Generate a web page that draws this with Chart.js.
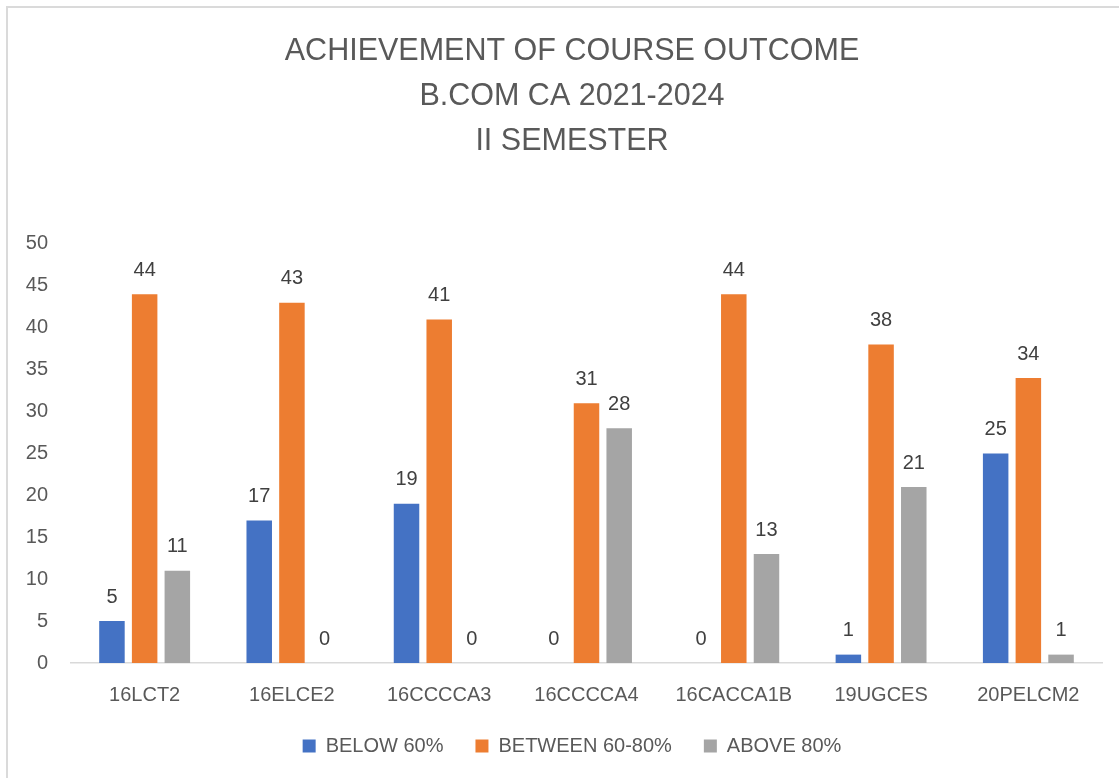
<!DOCTYPE html>
<html>
<head>
<meta charset="utf-8">
<title>Achievement of Course Outcome</title>
<script src="https://cdn.jsdelivr.net/npm/chart.js@4/dist/chart.umd.min.js"></script>
<style>
  html, body { margin: 0; padding: 0; background: #fff; overflow: hidden; }
  #wrap { position: relative; width: 1119px; height: 778px; }
  /* chart frame, cut off at the right and bottom like the screenshot */
  #frame { position: absolute; left: 6px; top: 6px; width: 1300px; height: 900px;
           border: 2px solid #dadada; box-sizing: border-box; pointer-events: none; }
  canvas { position: absolute; left: 0; top: 0; }
</style>
</head>
<body>
<div id="wrap">
  <div id="frame"></div>
  <canvas id="chart"></canvas>
</div>
<script>
  'use strict';

  var courses   = ['16LCT2', '16ELCE2', '16CCCCA3', '16CCCCA4', '16CACCA1B', '19UGCES', '20PELCM2'];
  var below60   = [5, 17, 19, 0, 0, 1, 25];
  var between   = [44, 43, 41, 31, 44, 38, 34];
  var above80   = [11, 0, 0, 28, 13, 21, 1];
  var seriesNames = ['BELOW 60%', 'BETWEEN 60-80%', 'ABOVE 80%'];
  var titleLines  = ['ACHIEVEMENT OF COURSE OUTCOME', 'B.COM CA 2021-2024', 'II SEMESTER'];

  var FONT = "'Liberation Sans', Arial, sans-serif";
  var TEXT = '#595959';

  /* value labels above every bar, zero included */
  var valueLabels = {
    id: 'valueLabels',
    afterDatasetsDraw: function (chart) {
      var ctx = chart.ctx;
      ctx.save();
      ctx.font = '20px ' + FONT;
      ctx.fillStyle = '#404040';
      ctx.textAlign = 'center';
      ctx.textBaseline = 'middle';
      chart.data.datasets.forEach(function (ds, i) {
        chart.getDatasetMeta(i).data.forEach(function (bar, j) {
          ctx.fillText(String(ds.data[j]), bar.x, bar.y - 24);
        });
      });
      ctx.restore();
    }
  };

  /* Excel centres title + legend on the frame, not on the canvas: nudge them right */
  var frameCentre = {
    id: 'frameCentre',
    afterLayout: function (chart) {
      if (chart.titleBlock) chart.titleBlock.left = 42;
      if (chart.legend) chart.legend.left = 42;
    }
  };

  function ds(label, data, color) {
    return {
      label: label, data: data, backgroundColor: color, borderWidth: 0,
      categoryPercentage: 0.666, barPercentage: 0.78
    };
  }

  new Chart(document.getElementById('chart'), {
    type: 'bar',
    data: {
      labels: courses,
      datasets: [
        ds(seriesNames[0], below60, '#4472C4'),
        ds(seriesNames[1], between, '#ED7D31'),
        ds(seriesNames[2], above80, '#A5A5A5')
      ]
    },
    options: {
      responsive: true,
      maintainAspectRatio: false,
      animation: false,
      layout: { padding: { left: 0, right: 17, top: 0, bottom: 12 } },
      plugins: {
        title: {
          display: true, text: titleLines, color: TEXT,
          font: { family: FONT, size: 30.5, weight: 'normal', lineHeight: 1.475 },
          padding: { top: 29.5, bottom: 79.5 }
        },
        legend: {
          position: 'bottom',
          labels: {
            color: TEXT, boxWidth: 13, boxHeight: 13, padding: 32,
            font: { family: FONT, size: 20 }
          }
        },
        tooltip: { enabled: false }
      },
      scales: {
        x: {
          grid: { display: false, drawTicks: false },
          border: { display: true, color: '#D9D9D9', width: 1.5 },
          ticks: { color: TEXT, padding: 20, font: { family: FONT, size: 20 } },
          afterFit: function (s) { s.height = 41; }
        },
        y: {
          min: 0, max: 50,
          grid: { display: false, drawTicks: false },
          border: { display: false },
          ticks: { stepSize: 5, color: TEXT, padding: 23, font: { family: FONT, size: 20 } },
          afterFit: function (s) { s.width = 71; }
        }
      }
    },
    plugins: [valueLabels, frameCentre]
  });
</script>
</body>
</html>
